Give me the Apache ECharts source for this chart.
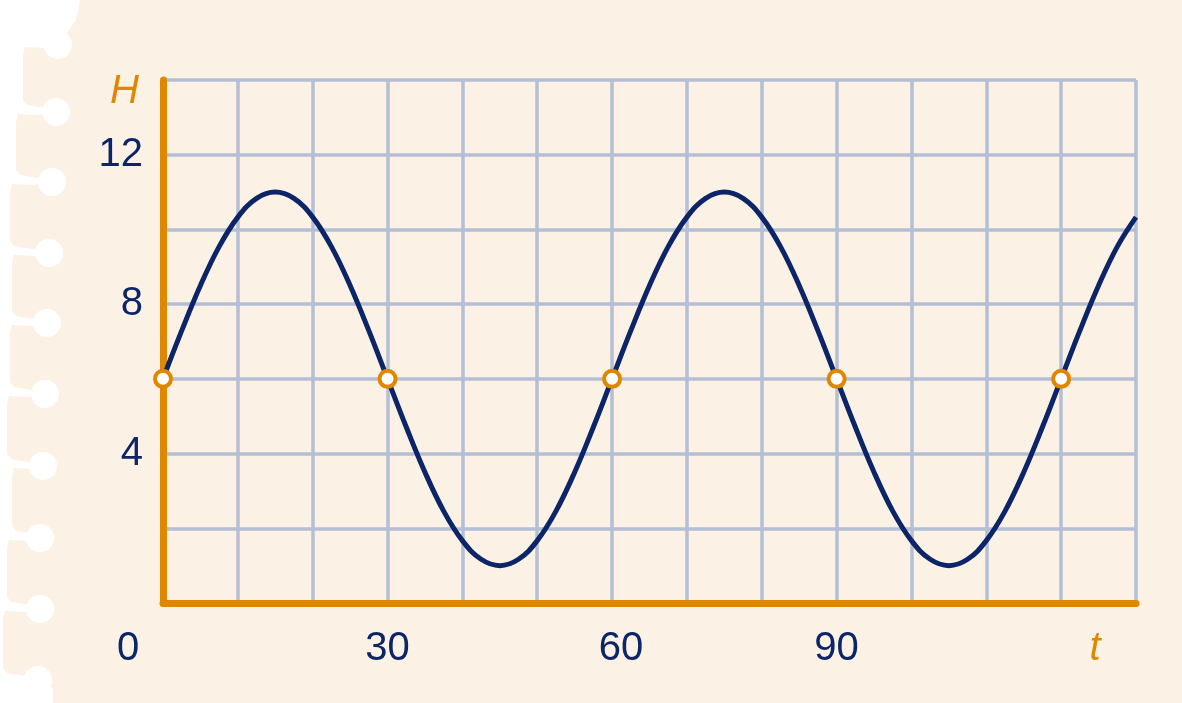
<!DOCTYPE html>
<html>
<head>
<meta charset="utf-8">
<script src="https://cdn.jsdelivr.net/npm/echarts@6/dist/echarts.min.js"></script>
<style>
html,body{margin:0;padding:0;background:#ffffff;}
#chart{width:1182px;height:703px;}
</style>
</head>
<body>
<div id="chart"></div>
<script>
// Data
var tValues = [0,2.5,5,7.5,10,12.5,15,17.5,20,22.5,25,27.5,30,32.5,35,37.5,40,42.5,45,47.5,50,52.5,55,57.5,60,
  62.5,65,67.5,70,72.5,75,77.5,80,82.5,85,87.5,90,92.5,95,97.5,100,102.5,105,107.5,110,112.5,115,117.5,120,122.5,125,127.5,130];
var hValues = [6,7.29,8.5,9.54,10.33,10.83,11,10.83,10.33,9.54,8.5,7.29,6,4.71,3.5,2.46,1.67,1.17,1,1.17,1.67,2.46,3.5,4.71,6,
  7.29,8.5,9.54,10.33,10.83,11,10.83,10.33,9.54,8.5,7.29,6,4.71,3.5,2.46,1.67,1.17,1,1.17,1.67,2.46,3.5,4.71,6,7.29,8.5,9.54,10.33];
var markT = [0,30,60,90,120];
var markH = [6,6,6,6,6];
var xTickLabels = [0,30,60,90];
var yTickLabels = [4,8,12];

var lineData = tValues.map(function(t,i){return [t,hValues[i]];});
var markData = markT.map(function(t,i){return [t,markH[i]];});

// paper decoration (torn notebook edge)
var holes = [[58,45,23],[56,112,16],[52,182,10],[49,253,12],[47,323,10],[45,394,7],[43,466,12],[40,538,7],[40,609,3],[38,680,53]];
var pts = [[1182,0],[80,0],[76,20],[66,34],[58,45]];
for (var i=0;i<holes.length;i++){
  var h=holes[i], e=h[2];
  if (i<holes.length-1){
    var n=holes[i+1];
    pts.push([e+22,h[1]+3]);
    pts.push([e+2,h[1]+2]);
    pts.push([e,h[1]+10]);
    pts.push([e,n[1]-12]);
    pts.push([e+4,n[1]-7]);
    pts.push([e+22,n[1]-4]);
    pts.push([n[0],n[1]]);
  } else {
    pts.push([e,h[1]+8]);
    pts.push([e,703]);
  }
}
pts.push([1182,703]);
var paperColor = '#fcf1e5';
var graphics = [{type:'polygon',z:-20,silent:true,shape:{points:pts},style:{fill:paperColor}}];
holes.forEach(function(h){
  graphics.push({type:'circle',z:-19,silent:true,shape:{cx:h[0],cy:h[1],r:14},style:{fill:'#ffffff'}});
});

var orange = '#e08700';
var navy = '#0b2568';
var gridColor = '#b4bed4';

var chart = echarts.init(document.getElementById('chart'), null, {renderer:'canvas'});
chart.setOption({
  animation:false,
  graphic: graphics,
  grid:{left:163,right:46,top:80,bottom:100,containLabel:false},
  xAxis:{
    type:'value',min:0,max:130,interval:10,
    name:'t',nameLocation:'end',nameGap:-41,
    nameTextStyle:{color:orange,fontStyle:'italic',fontSize:40,fontFamily:'Liberation Sans, Arial, sans-serif',align:'center',verticalAlign:'top',padding:[26,0,0,0]},
    axisLine:{show:true,onZero:false,lineStyle:{color:orange,width:7,cap:'round'}},
    axisTick:{show:false},
    splitLine:{show:true,lineStyle:{color:gridColor,width:3.5}},
    axisLabel:{
      margin:26,color:navy,fontSize:40,fontFamily:'Liberation Sans, Arial, sans-serif',
      formatter:function(v){
        if (xTickLabels.indexOf(v)<0) return '';
        if (v===0) return '{z|0}';
        if (v===60) return '{s|60}';
        return String(v);
      },
      rich:{
        z:{fontSize:40,color:navy,fontFamily:'Liberation Sans, Arial, sans-serif',padding:[0,70,0,0]},
        s:{fontSize:40,color:navy,fontFamily:'Liberation Sans, Arial, sans-serif',padding:[0,0,0,18]}
      }
    }
  },
  yAxis:{
    type:'value',min:0,max:14,interval:2,
    name:'H',nameLocation:'end',nameGap:-12,
    nameTextStyle:{color:orange,fontStyle:'italic',fontSize:40,fontFamily:'Liberation Sans, Arial, sans-serif',align:'right',verticalAlign:'middle',padding:[0,24,0,0]},
    axisLine:{show:true,onZero:false,lineStyle:{color:orange,width:7,cap:'round'}},
    axisTick:{show:false},
    splitLine:{show:true,lineStyle:{color:gridColor,width:3.5}},
    axisLabel:{
      margin:20,color:navy,fontSize:40,fontFamily:'Liberation Sans, Arial, sans-serif',
      formatter:function(v){return yTickLabels.indexOf(v)<0?'':String(v);}
    }
  },
  series:[
    {type:'line',data:lineData,smooth:0.4,showSymbol:false,symbol:'none',clip:false,
     lineStyle:{color:navy,width:5},z:3},
    {type:'scatter',data:markData,symbol:'circle',symbolSize:16,clip:false,
     itemStyle:{color:'#ffffff',borderColor:orange,borderWidth:4,opacity:1},z:5}
  ]
});
</script>
</body>
</html>
